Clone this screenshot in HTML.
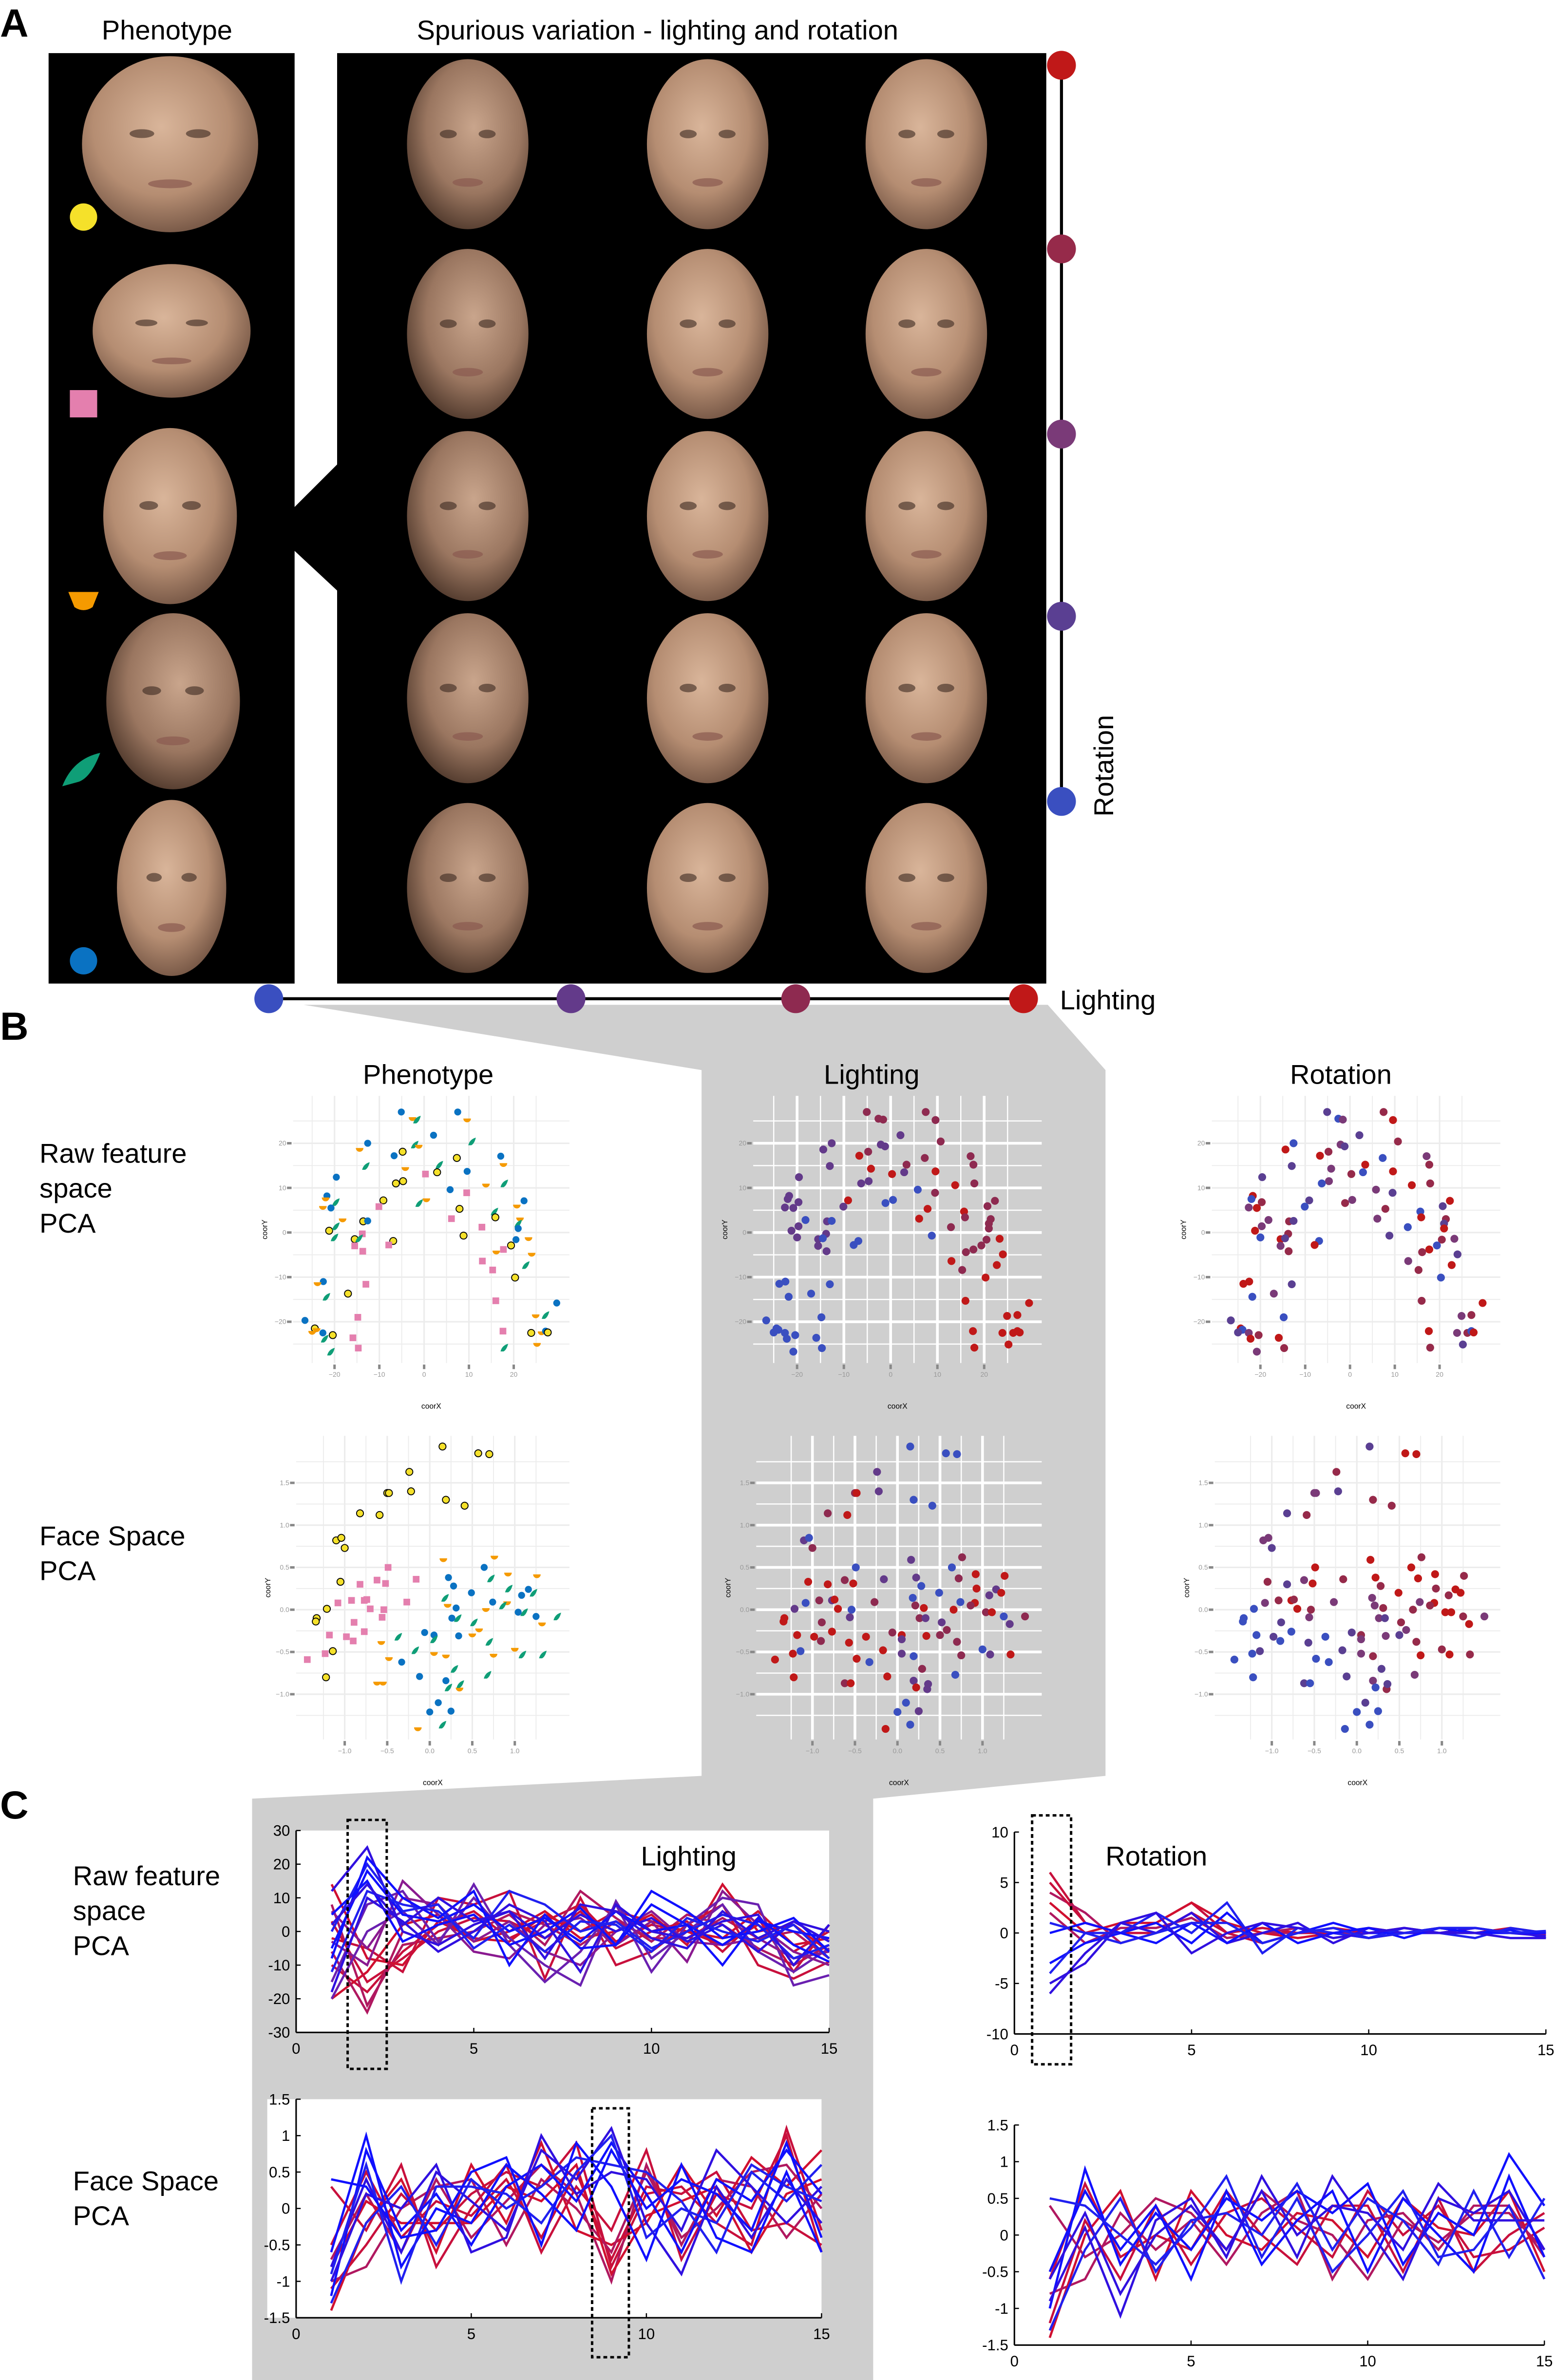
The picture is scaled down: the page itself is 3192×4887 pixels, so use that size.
<!DOCTYPE html>
<html><head><meta charset="utf-8"><style>
html,body{margin:0;padding:0;background:#fff}
svg{display:block}
text{font-family:"Liberation Sans",sans-serif}
.nar{font-family:"Liberation Sans Narrow","Liberation Sans",sans-serif}
</style></head><body>
<svg id="fig" width="3192" height="4887" viewBox="0 0 1024 1568" preserveAspectRatio="none" xmlns="http://www.w3.org/2000/svg">
<defs>
<radialGradient id="skin" cx="0.45" cy="0.4" r="0.65"><stop offset="0" stop-color="#d9b59a"/><stop offset="0.6" stop-color="#b58d72"/><stop offset="1" stop-color="#6e5040"/></radialGradient>
<radialGradient id="skin2" cx="0.55" cy="0.4" r="0.65"><stop offset="0" stop-color="#c9a58c"/><stop offset="0.6" stop-color="#9a7660"/><stop offset="1" stop-color="#4a3428"/></radialGradient>
</defs>
<g id="bg"></g>
<g id="partA"></g>
<g id="partB"></g>
<g id="partC"></g>
</svg>
<script>
// ---------- DATA ----------
const rawX=[-5.1,7.5,-2.6,-1.6,9.6,2.1,10.7,-12.6,-14.4,-2.1,-1.2,-4.8,-6.7,7.3,17.1,17.7,-13,3.4,-4.2,2.9,0.3,9.6,-19.6,-4.7,-6.3,17.9,13.8,5.8,9.5,-21.7,-22,-19.7,-22.6,-20.8,-9.1,-10.1,-1.1,0.5,22.3,20.7,7.9,15.7,15.9,6.1,21.4,21,21,12.9,-18.2,-13.6,-12.6,-21.2,-19.7,-20,-13.8,-15.5,-14.5,-15.5,-13.7,-6.9,-7.9,8.8,20.5,23.3,19.4,17.7,16.1,24,13,22.7,15.3,20.3,-22.5,-23.8,-13,-17,-21.8,16,29.6,24.9,27.1,-26.6,-14.8,-24.4,-24,-25,-22.6,-22.2,-20.4,-15.9,-20.8,-14.7,17.6,23.9,26.2,27.1,27.6,25.2,17.9];
const rawY=[27,27,25.5,25.3,25.2,21.8,20.4,20,18.6,19.7,19.3,18.1,17.2,16.7,17.1,15.2,14.9,15.2,14.3,13.5,13.1,13.7,12.4,11.5,11,11,10.6,9.6,8.9,8.2,7.5,6.8,5.6,5.5,7.2,5.8,6.6,7.3,7.1,5.9,5.3,4.7,3.4,3.1,3,2,0.9,1.2,2.8,2.5,2.6,0.4,1.4,-1.1,-0.3,-1.5,-1.3,-3,-4.2,-1.9,-2.8,-0.7,-1.6,-1.4,-2.9,-3.8,-4.4,-4.9,-6.4,-7.3,-8.4,-10.1,-11,-11.5,-11.6,-13.7,-14.4,-15.3,-15.8,-18.7,-18.5,-19.7,-19,-21.5,-21.8,-22.4,-22.5,-23.8,-23,-23.6,-26.7,-25.9,-22.1,-22.5,-22.5,-22.1,-22.4,-25.1,-25.8];
const rawLight=[2,2,2,2,2,1,2,1,1,1,1,2,3,2,2,2,1,2,3,1,3,3,1,1,1,2,3,0,2,1,1,1,1,1,3,1,0,0,2,2,3,3,2,3,2,2,2,2,0,1,0,1,1,1,1,1,0,1,1,0,0,0,2,3,2,2,2,3,3,3,2,3,0,0,0,0,0,3,3,3,3,0,0,0,0,0,0,0,0,0,0,0,3,3,3,3,3,3,3];
const rawPheno=[4,4,2,3,2,4,3,4,2,3,2,0,4,0,4,2,3,3,2,0,1,4,4,0,0,3,2,4,1,4,2,3,2,4,0,1,3,2,4,2,0,3,0,1,2,3,4,1,2,0,4,0,3,3,1,0,3,1,1,0,1,0,4,2,0,1,2,2,1,3,1,0,4,2,1,0,3,1,4,2,3,4,1,0,2,2,4,3,0,1,3,1,1,0,2,4,0,2,3];
const rawRot=[3,1,4,2,0,3,1,4,0,2,3,1,0,4,2,1,3,0,2,4,1,0,3,2,4,1,0,2,3,0,4,1,2,0,3,4,1,2,0,3,1,4,0,2,1,3,0,4,2,1,3,0,2,4,1,0,3,2,1,4,0,3,1,2,4,0,1,3,2,0,1,4,0,0,3,2,4,1,0,2,1,3,4,0,4,3,2,0,1,0,2,1,0,2,1,4,0,3,1];
const faceX=[0.15,0.57,0.7,-0.24,-0.5,-0.48,-0.22,0.19,0.41,-0.82,-0.59,-1.1,-1.04,-1.0,-1.05,-1.21,-1.33,-1.34,-1.14,-1.22,
-0.49,-0.16,-0.62,-0.52,-0.82,-1.08,-0.92,-0.77,-0.74,-0.27,-0.7,-0.54,-0.56,-0.89,-0.77,-1.18,-0.98,-0.9,-1.23,-1.44,
0.16,0.76,0.92,1.26,0.21,0.91,0.66,1.32,0.58,0.5,-0.57,-0.48,0.05,0.19,0.75,1.0,-0.62,-0.55,0.35,-0.14,
0.64,0.22,0.28,0.49,1.16,1.08,0.74,0.31,1.04,1.25,0.26,-0.06,0.05,0.34,-0.33,-0.12,0.19,0.1,0.0,0.25,
0.72,0.93,1.22,0.18,0.86,0.33,1.11,1.5,0.52,-0.37,0.05,0.7,-0.17,1.09,1.33,0.29,0.68,0.36,0.22,0.15];
const faceY=[1.93,1.85,1.84,1.63,1.38,1.38,1.4,1.3,1.23,1.14,1.12,0.82,0.85,0.73,0.33,0.01,-0.1,-0.14,-0.49,-0.8,
0.5,0.36,0.35,0.31,0.3,0.08,0.11,0.11,0.12,0.09,0.01,0,-0.09,-0.15,-0.26,-0.3,-0.32,-0.37,-0.52,-0.59,
0.59,0.62,0.42,0.4,0.05,0.08,0,-0.17,-0.24,-0.3,-0.39,-0.58,-0.52,-0.55,-0.54,-0.47,-0.87,-0.87,-0.94,-1.41,
0.5,0.38,0.28,0.2,0.24,0.17,0.09,0.02,-0.03,-0.08,-0.1,-0.27,-0.3,-0.31,-0.62,-0.79,-0.84,-1.1,-1.21,-1.2,
0.37,0.25,0.2,0.14,0.05,-0.1,-0.03,-0.08,-0.15,-0.32,-0.35,-0.38,-0.48,-0.53,-0.53,-0.7,-0.77,-0.88,-0.92,-1.36];
const facePheno=[0,0,0,0,0,0,0,0,0,0,0,0,0,0,0,0,0,0,0,0,1,1,1,1,1,1,1,1,1,1,1,1,1,1,1,1,1,1,1,1,2,2,2,2,2,2,2,2,2,2,2,2,2,2,2,2,2,2,2,2,4,4,4,4,4,4,4,4,4,4,4,4,4,4,4,4,4,4,4,4,3,3,3,3,3,3,3,3,3,3,3,3,3,3,3,3,3,3,3,3];
const faceLight=[0,0,0,1,2,3,1,0,0,2,3,1,0,2,3,1,3,3,0,3,0,1,2,3,3,0,2,1,3,2,3,0,1,2,3,3,3,2,3,3,1,2,3,3,2,3,3,1,2,2,3,3,1,0,2,0,2,3,1,3,0,1,0,0,1,1,0,3,2,0,2,2,3,3,0,3,1,0,0,1,2,3,3,0,2,1,3,2,1,3,1,2,3,1,3,2,0,1,3,0];
const faceRot=[3,0,0,1,2,2,3,1,1,3,1,2,2,3,1,4,4,4,3,4,0,1,2,0,3,2,1,0,1,2,0,1,2,3,4,4,3,4,4,4,0,1,0,1,2,0,1,0,2,3,3,4,2,1,0,1,3,4,1,4,0,0,1,0,0,1,2,1,0,1,2,3,1,2,4,3,2,3,4,4,0,1,0,2,1,3,0,2,1,4,2,1,3,0,1,3,2,3,4,4];
const comps=[1,2,3,4,5,6,7,8,9,10,11,12,13,14,15];
const tlBlue=[[-5,18,5,3,8,0,4,-3,6,0,2,-4,3,0,-2],[12,25,0,-4,2,6,-2,5,0,4,-3,2,-6,3,0],[-12,12,8,6,-2,12,8,0,3,-5,0,5,2,-8,-4],[5,15,-3,2,5,-4,0,7,-4,12,6,-2,0,4,-6],[-18,10,3,-6,0,8,3,-12,8,0,-2,3,5,-10,2],[0,20,6,8,-5,2,-6,3,2,-6,4,0,-3,2,-8],[-8,22,10,4,12,-10,5,-5,-4,8,2,-10,4,-4,-9],[2,14,2,10,3,6,-8,8,6,-2,-5,6,-2,3,-3]];
const tlPurple=[[-15,8,12,-3,10,-2,-10,-16,9,-8,0,8,-6,-12,-5],[-3,-10,15,5,-6,-8,2,4,-4,3,-9,12,2,-6,-10],[-20,0,6,-4,14,-4,-15,-6,8,-12,2,10,8,-16,-13],[6,-5,10,8,-3,3,-6,-10,0,6,-3,-4,-2,-8,-6]];
const tlRed=[[-10,-18,-6,2,6,-2,3,8,-3,2,0,-4,2,-6,0],[8,-22,-4,-2,0,5,-4,12,4,-3,5,2,-5,-10,-4],[-20,-12,2,5,-3,0,6,-2,0,5,-4,14,0,2,-6],[3,-15,-8,0,4,3,-2,6,-5,0,3,-6,4,-12,2],[-6,-24,0,-4,2,6,2,-4,3,-2,-2,4,-2,0,-8],[14,-8,-10,3,-2,-3,5,0,6,3,0,-2,6,-4,-2],[-2,-5,-12,10,8,12,-14,10,-10,-6,2,8,-10,-14,-9]];
const trBlue=[[-3,-1,0,1,-1,2,-1,0,1,0,0,0.5,0,0.3,-0.5],[-6,-2,1,0,2,-1,0,1,-1,0.5,0,0,0.5,0,-0.3],[-4,0,0,2,0,3,-2,0.5,0,-0.5,0.5,0,-0.5,0.5,0],[0,1,0,-1,1,-1,1,-1,0,0.5,-0.5,0.5,0,0,0],[-5,-3,1,2,-2,0,1,0.5,-0.5,0,0.5,0,0,-0.5,-0.5],[1,0,-1,0,1,1,-1,0,0.5,-0.5,0,0.5,0.5,0,0.2]];
const trRed=[[6,1,0,1,3,0,-1,0,0.5,0,0,0.5,0,0,0],[4,2,-1,0,2,-1,0,0,0,0.5,0,0,0.5,0,0],[3,0,1,1,3,1,0,-0.5,0,0,0.5,0,0,0.5,0],[5,1,0,0,2,0,0.5,0,0,-0.5,0,0.5,0,0,0],[2,-1,0.5,0.5,1.5,-0.5,0,0.5,0,0,0,0,0.5,0,-0.2]];
const blBlue=[[-1.2,0.8,-0.3,0.2,-0.5,0.3,0.6,0.1,0.9,0.2,-0.6,0.4,0.1,0.8,0.2],[-0.8,0.4,-0.6,0.5,0.1,-0.3,0.8,0.4,1.1,-0.2,-0.9,0.3,-0.4,0.4,-0.2],[-1.3,-0.2,0.3,-0.5,0.4,0.0,0.3,0.7,0.6,0.5,0.1,-0.6,0.5,0.1,0.6],[-0.6,1.0,-0.8,0.0,-0.2,0.6,0.2,-0.3,0.8,0.0,0.4,0.2,-0.3,0.9,-0.4],[-1.0,0.2,0.0,0.6,-0.6,-0.4,1.0,0.2,0.5,0.4,-0.3,0.8,0.3,-0.2,0.3],[-0.9,0.6,-1.0,0.3,0.3,0.2,-0.2,0.5,1.0,-0.4,0.0,-0.2,0.6,0.3,0.1],[0.4,0.3,-0.4,-0.3,0.5,0.7,-0.5,0.9,0.3,-0.7,0.6,-0.4,-0.6,0.5,-0.6]];
const blRed=[[-1.1,-0.5,0.2,-0.3,0.2,0.5,0.3,0.9,-0.8,0.2,0.3,-0.2,-0.5,1.1,-0.3],[-0.7,0.2,-0.6,0.4,-0.4,0.1,0.6,0.2,-1.0,0.6,-0.5,0.4,0.3,-0.4,0.2],[-1.4,-0.2,0.4,-0.6,0.6,-0.2,0.9,-0.3,-0.5,-0.2,0.6,-0.1,0.7,0.3,0.8],[-0.5,0.5,-0.4,0.1,-0.1,0.4,-0.4,0.5,-0.7,0.3,0.2,0.5,-0.3,-0.2,-0.5],[-1.0,-0.8,0.0,0.3,0.4,-0.5,0.4,0.0,-0.6,0.5,-0.4,0.0,0.5,0.6,0.0],[-0.8,0.1,-0.2,-0.2,-0.2,0.3,0.1,0.6,-0.9,-0.1,0.1,0.3,-0.6,0.2,0.4],[0.3,-0.3,0.6,-0.8,0.0,0.6,-0.6,0.3,-0.3,0.8,-0.7,0.2,0.0,1.0,-0.6]];
const brBlue=[[-1.0,0.9,-0.4,0.3,-0.2,0.5,0.2,0.6,0.3,0.7,-0.4,0.3,0.0,1.1,0.4],[-0.6,0.3,-0.8,0.0,0.4,-0.2,0.6,-0.3,0.8,0.1,-0.6,0.5,0.3,0.6,-0.2],[-1.3,-0.2,0.5,-0.5,0.2,0.3,0.0,0.7,-0.2,0.5,0.2,-0.4,0.6,-0.3,0.5],[-0.5,0.6,-0.2,0.4,-0.6,0.6,-0.4,0.2,0.6,-0.5,0.5,0.0,-0.5,0.8,-0.3],[-0.9,0.1,-1.1,0.2,0.5,-0.3,0.8,0.0,0.4,0.3,-0.2,0.7,0.2,0.2,0.2],[0.5,0.4,0.0,-0.4,0.1,0.8,-0.3,0.5,-0.5,0.0,0.6,-0.3,-0.2,0.4,-0.6]];
const brRed=[[-1.2,0.2,-0.6,0.4,-0.4,0.3,0.5,0.1,-0.3,0.6,0.0,0.4,-0.3,-0.2,0.1],[-0.8,-0.6,0.3,-0.2,0.2,-0.4,0.3,0.6,-0.6,0.2,0.3,-0.2,0.4,0.4,-0.3],[-1.4,0.0,0.6,-0.6,0.6,0.0,-0.2,0.3,0.2,-0.3,0.5,0.1,0.0,0.6,-0.5],[-0.6,0.7,-0.3,0.0,-0.2,0.6,0.0,-0.4,0.4,0.4,-0.5,0.5,-0.5,0.0,0.3],[0.4,-0.3,0.0,0.5,0.3,-0.2,0.6,0.2,0.0,-0.6,0.2,-0.1,0.3,0.3,-0.2]];
const lineTicksX=[0,5,10,15];

// ---------- HELPERS ----------
const NS='http://www.w3.org/2000/svg';
function mk(tag,attrs,parent){const e=document.createElementNS(NS,tag);for(const k in attrs)e.setAttribute(k,attrs[k]);parent.appendChild(e);return e;}
function txt(s,x,y,size,parent,extra){const e=mk('text',Object.assign({x:x,y:y,'font-size':size,fill:'#000'},extra||{}),parent);e.textContent=s;return e;}
const bg=document.getElementById('bg'),A=document.getElementById('partA'),B=document.getElementById('partB'),C=document.getElementById('partC');

let g=mk('polygon',{points:'200,662 690,662 728,705 728,1170 575,1185 575,1568 166,1568 166,1185 462,1170 462,705',fill:'#cfcfcf'},bg);



// ---------- PART A ----------
let t=txt('A',0,24,26,A,{'font-weight':'bold'});
t=txt('Phenotype',110,26,18,A,{'text-anchor':'middle'});
t=txt('Spurious variation - lighting and rotation',433,26,18,A,{'text-anchor':'middle'});
let r=mk('rect',{x:32,y:35,width:162,height:613,fill:'#000'},A);
r=mk('rect',{x:222,y:35,width:467,height:613,fill:'#000'},A);
r=mk('polygon',{points:'193,335 223,305 223,390 193,362',fill:'#000'},A);
function face(cx,cy,rx,ry,grad,name){const gg=mk('g',{},A);
 mk('ellipse',{cx:cx,cy:cy,rx:rx,ry:ry,fill:'url(#'+grad+')'},gg);
 mk('ellipse',{cx:cx-rx*0.32,cy:cy-ry*0.12,rx:rx*0.14,ry:ry*0.05,fill:'#3a2820',opacity:0.6},gg);
 mk('ellipse',{cx:cx+rx*0.32,cy:cy-ry*0.12,rx:rx*0.14,ry:ry*0.05,fill:'#3a2820',opacity:0.6},gg);
 mk('ellipse',{cx:cx,cy:cy+ry*0.45,rx:rx*0.25,ry:ry*0.05,fill:'#8a5a50',opacity:0.7},gg);}
face(112,95,58,58,'skin','face-phenotype-1');
face(113,218,52,44,'skin','face-phenotype-2');
face(112,340,44,58,'skin','face-phenotype-3');
face(114,462,44,58,'skin2','face-phenotype-4');
face(113,585,36,58,'skin','face-phenotype-5');
const colsX=[308,466,610],rowsY=[95,220,340,460,585];
rowsY.forEach((y,i)=>colsX.forEach((x,j)=>face(x,y,40,56,(j===0?'skin2':'skin'),'face-variation-r'+(i+1)+'-c'+(j+1))));
let m=mk('circle',{cx:55,cy:143,r:9,fill:'#f5e12a'},A);
m=mk('rect',{x:46,y:257,width:18,height:18,fill:'#e47fae'},A);
m=mk('path',{d:'M45,390 L65,390 L61,400 Q55,404 49,400 Z',fill:'#f59a00'},A);
m=mk('path',{d:'M41,518 Q48,500 66,496 Q60,512 52,515 Z',fill:'#0f9e77'},A);
m=mk('circle',{cx:55,cy:633,r:9,fill:'#0a72c2'},A);
let l=mk('line',{x1:699,y1:43,x2:699,y2:528,stroke:'#000','stroke-width':2},A);
const rotCols=['#c01818','#962a4a','#7a3a78','#5a3f92','#3a4fc0'];
[43,164,286,406,528].forEach((y,i)=>{const c=mk('circle',{cx:699,cy:y,r:9.5,fill:rotCols[i]},A);});
t=txt('Rotation',0,0,18,A,{transform:'translate(733,538) rotate(-90)'});
l=mk('line',{x1:177,y1:658,x2:674,y2:658,stroke:'#000','stroke-width':2},A);
const litCols=['#3a4fc0','#633a8a','#8e2a50','#c01818'];
[177,376,524,674].forEach((x,i)=>{const c=mk('circle',{cx:x,cy:658,r:9.5,fill:litCols[i]},A);});
t=txt('Lighting',698,665,18,A);

// ---------- PART B ----------
t=txt('B',0,685,26,B,{'font-weight':'bold'});
[['Phenotype',282],['Lighting',574],['Rotation',883]].forEach(a=>{const e=txt(a[0],a[1],714,18,B,{'text-anchor':'middle'});});
['Raw feature','space','PCA'].forEach((s,i)=>{const e=txt(s,26,766+i*23,18,B);});
['Face Space','PCA'].forEach((s,i)=>{const e=txt(s,26,1018+i*23,18,B);});
const phenoCols=['#f5e12a','#e47fae','#f59a00','#0f9e77','#0a72c2'];
function scatter(opts){
 const gg=mk('g',{},B);
 const sx=v=>opts.x0+v*opts.kx, sy=v=>opts.y0-v*opts.ky;
 const gridMajor=opts.gray?'#fff':'#ececec';
 opts.minor.forEach(v=>{mk('line',{x1:sx(v),y1:opts.top,x2:sx(v),y2:opts.bot,stroke:gridMajor,'stroke-width':opts.gray?0.8:0.6},gg);});
 opts.minorY.forEach(v=>{mk('line',{x1:opts.left,y1:sy(v),x2:opts.right,y2:sy(v),stroke:gridMajor,'stroke-width':opts.gray?0.8:0.6},gg);});
 opts.ticks.forEach(v=>{mk('line',{x1:sx(v),y1:opts.top,x2:sx(v),y2:opts.bot,stroke:gridMajor,'stroke-width':opts.gray?1.8:1},gg);
   mk('rect',{x:sx(v)-0.8,y:opts.bot+1,width:1.6,height:3,fill:'#888'},gg);
   txt(opts.fmt(v),sx(v),opts.bot+9,4.5,gg,{'text-anchor':'middle',fill:'#999'});});
 opts.ticksY.forEach(v=>{mk('line',{x1:opts.left,y1:sy(v),x2:opts.right,y2:sy(v),stroke:gridMajor,'stroke-width':opts.gray?1.8:1},gg);
   mk('rect',{x:opts.left-4,y:sy(v)-0.8,width:3,height:1.6,fill:'#888'},gg);
   txt(opts.fmt(v),opts.left-4.5,sy(v)+1.5,4.5,gg,{'text-anchor':'end',fill:'#999'});});
 txt('coorX',(opts.left+opts.right)/2,opts.bot+30,5,gg,{'text-anchor':'middle'});
 txt('coorY',0,0,5,gg,{transform:'translate('+(opts.left-17)+','+((opts.top+opts.bot)/2)+') rotate(-90)','text-anchor':'middle'});
 for(let i=0;i<opts.xs.length;i++){
  const x=sx(opts.xs[i]),y=sy(opts.ys[i]);let p;
  if(opts.mode==='pheno'){const c=opts.cats[i];
   if(c===0)p=mk('circle',{cx:x,cy:y,r:2.3,fill:phenoCols[0],stroke:'#000','stroke-width':0.6},gg);
   else if(c===1)p=mk('rect',{x:x-2.2,y:y-2.2,width:4.4,height:4.4,fill:phenoCols[1]},gg);
   else if(c===2)p=mk('path',{d:'M'+(x-2.5)+','+(y-1)+' h5 a2.5,2.5 0 0 1 -5,0z',fill:phenoCols[2]},gg);
   else if(c===3)p=mk('path',{d:'M'+(x-2.5)+','+(y+2.5)+' q1,-4 5,-5 q-1,4 -3,5z',fill:phenoCols[3]},gg);
   else p=mk('circle',{cx:x,cy:y,r:2.3,fill:phenoCols[4]},gg);
  } else {p=mk('circle',{cx:x,cy:y,r:2.6,fill:opts.pal[opts.cats[i]]},gg);}
  
  
 }
}
const rawTicks=[-20,-10,0,10,20],rawMinor=[-25,-15,-5,5,15,25],faceTicks=[-1,-0.5,0,0.5,1],faceMinor=[-1.25,-0.75,-0.25,0.25,0.75,1.25];
const faceTicksY=[-1,-0.5,0,0.5,1,1.5],faceMinorY=[-1.25,-0.75,-0.25,0.25,0.75,1.25,1.75];
const fmtR=v=>(v<0?'\u2212':'')+Math.abs(v), fmtF=v=>(v<0?'\u2212':'')+Math.abs(v).toFixed(1);
const rotPal=['#c01818','#962a4a','#7a3a78','#5a3f92','#3a4fc0'];
[[279.3,193,375,'pheno',rawPheno,null,false,'scatter-raw-phenotype'],[586.5,496,686,'light',rawLight,litCols,true,'scatter-raw-lighting'],[889,798,988,'rot',rawRot,rotPal,false,'scatter-raw-rotation']].forEach(c=>{
 scatter({name:c[7],x0:c[0],kx:c[0]===586.5?3.08:2.95,y0:812,ky:2.94,left:c[1],right:c[2],top:722,bot:898,ticks:rawTicks,minor:rawMinor,ticksY:rawTicks,minorY:rawMinor,fmt:fmtR,xs:rawX,ys:rawY,mode:c[3],cats:c[4],pal:c[5],gray:c[6]});});
[[283,195,375,'pheno',facePheno,null,false,'scatter-face-phenotype'],[591,498,686,'light',faceLight,litCols,true,'scatter-face-lighting'],[893.5,800,988,'rot',faceRot,rotPal,false,'scatter-face-rotation']].forEach(c=>{
 scatter({name:c[7],x0:c[0],kx:56,y0:1060.5,ky:55.7,left:c[1],right:c[2],top:946,bot:1146,ticks:faceTicks,minor:faceMinor,ticksY:faceTicksY,minorY:faceMinorY,fmt:fmtF,xs:faceX,ys:faceY,mode:c[3],cats:c[4],pal:c[5],gray:c[6]});});

// ---------- PART C ----------
t=txt('C',0,1198,26,C,{'font-weight':'bold'});
['Raw feature','space','PCA'].forEach((s,i)=>{const e=txt(s,48,1242+i*23,18,C);});
['Face Space','PCA'].forEach((s,i)=>{const e=txt(s,48,1443+i*23,18,C);});
function linePlot(o){
 const gg=mk('g',{},C);
 mk('rect',{x:o.bgx,y:o.top,width:o.x1-o.bgx,height:o.bot-o.top,fill:'#fff'},gg);
 const sx=v=>o.x0+(v/15)*(o.x1-o.x0), sy=v=>o.bot-(v-o.ymin)/(o.ymax-o.ymin)*(o.bot-o.top);
 const draw=(arr,cols,nm)=>arr.forEach((s,i)=>{const p=mk('polyline',{points:s.map((v,k)=>sx(comps[k])+','+sy(v)).join(' '),fill:'none',stroke:cols[i%cols.length],'stroke-width':1.5,'stroke-linejoin':'miter'},gg);
   
   });
 draw(o.red,['#c8103c','#b01860','#d01030'],'series-red');
 if(o.purple)draw(o.purple,['#6a20b0','#8a1a90'],'series-purple');
 draw(o.blue,['#1010ff','#3010e0','#2020f0'],'series-blue');
 mk('line',{x1:o.x0,y1:o.top,x2:o.x0,y2:o.bot,stroke:'#000','stroke-width':1},gg);
 mk('line',{x1:o.x0,y1:o.bot,x2:o.x1,y2:o.bot,stroke:'#000','stroke-width':1},gg);
 o.yt.forEach(v=>{mk('line',{x1:o.x0,y1:sy(v),x2:o.x0+3,y2:sy(v),stroke:'#000','stroke-width':0.8},gg);
   txt(o.yf(v),o.x0-4,sy(v)+3.5,10,gg,{'text-anchor':'end',class:'nar'});});
 lineTicksX.forEach(v=>{mk('line',{x1:sx(v),y1:o.bot,x2:sx(v),y2:o.bot-3,stroke:'#000','stroke-width':0.8},gg);
   txt(String(v),sx(v),o.bot+14,10,gg,{'text-anchor':'middle',class:'nar'});});
 if(o.title){txt(o.title,o.tx,o.ty,18,gg);}
 if(o.box){const b=mk('rect',{x:sx(o.box[0]),y:o.box[2],width:sx(o.box[1])-sx(o.box[0]),height:o.box[3]-o.box[2],fill:'none',stroke:'#000','stroke-width':1.6,'stroke-dasharray':'2.5,2'},gg);}
}
const y30=[-30,-20,-10,0,10,20,30],y10=[-10,-5,0,5,10],y15=[-1.5,-1,-0.5,0,0.5,1,1.5];
const fi=v=>String(v), ff=v=>String(v);
linePlot({name:'line-raw-lighting',x0:195,x1:546,bgx:195,top:1206,bot:1339,ymin:-30,ymax:30,yt:y30,yf:fi,blue:tlBlue,purple:tlPurple,red:tlRed,title:'Lighting',tx:422,ty:1229,box:[1.45,2.55,1199,1363]});
linePlot({name:'line-raw-rotation',x0:668,x1:1018,bgx:668,top:1207,bot:1340,ymin:-10,ymax:10,yt:y10,yf:fi,blue:trBlue,red:trRed,title:'Rotation',tx:728,ty:1229,box:[0.5,1.6,1196,1360]});
linePlot({name:'line-face-lighting',x0:195,x1:541,bgx:176,top:1383,bot:1527,ymin:-1.5,ymax:1.5,yt:y15,yf:ff,blue:blBlue,red:blRed,box:[8.45,9.5,1389,1553]});
linePlot({name:'line-face-rotation',x0:668,x1:1017,bgx:668,top:1400,bot:1545,ymin:-1.5,ymax:1.5,yt:y15,yf:ff,blue:brBlue,red:brRed});
</script>
</body></html>
